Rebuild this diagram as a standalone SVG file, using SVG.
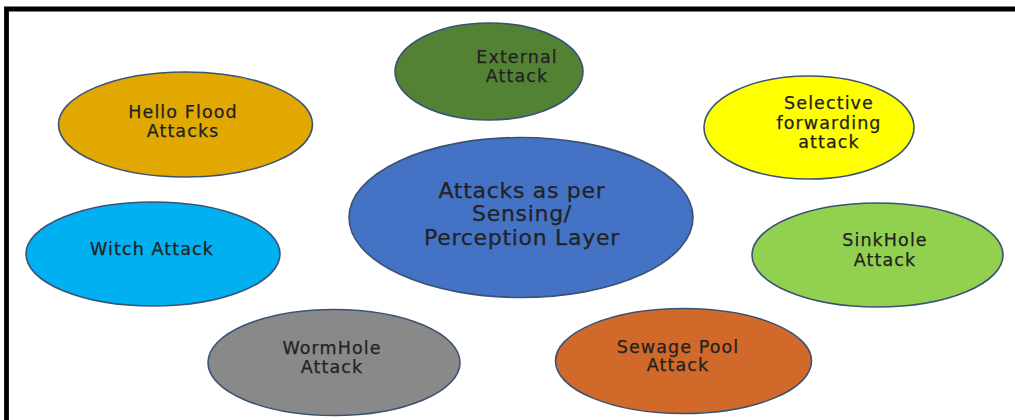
<svg xmlns="http://www.w3.org/2000/svg" width="1015" height="420" viewBox="0 0 1015 420">
<style>
.n{stroke:#3b5274;stroke-width:1.6}
.t{font-family:"DejaVu Sans",sans-serif;font-size:17.5px;letter-spacing:1.1px;fill:#222;stroke:#222;stroke-width:0.25;text-anchor:middle}
.c{font-size:22px;letter-spacing:0.7px}
</style>
<rect width="1015" height="420" fill="#fff"/>
<path d="M6.5 420V9H1015" fill="none" stroke="#000" stroke-width="4.8"/>
<g id="connectors"/>
<g id="external"><ellipse class="n" cx="489" cy="71.5" rx="94" ry="48.5" fill="#548235"/><text class="t" x="517" y="63">External</text><text class="t" x="517" y="82">Attack</text></g>
<g id="helloflood"><ellipse class="n" cx="185.5" cy="124.5" rx="127" ry="52.5" fill="#E0A800"/><text class="t" x="183" y="118">Hello Flood</text><text class="t" x="183" y="137">Attacks</text></g>
<g id="selective"><ellipse class="n" cx="809" cy="127.5" rx="105" ry="51.5" fill="#FFFF00"/><text class="t" x="829" y="109">Selective</text><text class="t" x="829" y="129">forwarding</text><text class="t" x="829" y="148">attack</text></g>
<g id="center"><ellipse class="n" cx="521" cy="217.5" rx="172" ry="80" fill="#4472C4"/><text class="t c" x="522" y="198">Attacks as per</text><text class="t c" x="522" y="221">Sensing/</text><text class="t c" x="522" y="245">Perception Layer</text></g>
<g id="witch"><ellipse class="n" cx="153" cy="254" rx="127" ry="52" fill="#00B0F0"/><text class="t" x="152" y="255">Witch Attack</text></g>
<g id="sinkhole"><ellipse class="n" cx="877.5" cy="255" rx="125.5" ry="52" fill="#92D050"/><text class="t" x="885" y="246">SinkHole</text><text class="t" x="885" y="266">Attack</text></g>
<g id="wormhole"><ellipse class="n" cx="334" cy="362.5" rx="126" ry="53" fill="#898989"/><text class="t" x="332" y="354">WormHole</text><text class="t" x="332" y="373">Attack</text></g>
<g id="sewage"><ellipse class="n" cx="683.5" cy="361" rx="128" ry="52.5" fill="#D0692A"/><text class="t" x="678" y="353">Sewage Pool</text><text class="t" x="678" y="371">Attack</text></g>
</svg>
